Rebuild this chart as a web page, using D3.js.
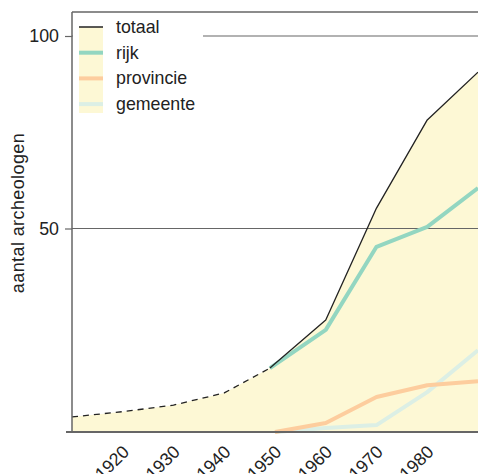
<!DOCTYPE html>
<html><head><meta charset="utf-8">
<script src="https://cdn.jsdelivr.net/npm/d3@7"></script>
<style>body{margin:0;background:#fff;} text{font-family:"Liberation Sans",Arial,sans-serif;}</style>
</head><body>
<svg id="c" width="478" height="474"></svg>
<script>
const yearTicks = [1920,1930,1940,1950,1960,1970,1980];
const yTicks = [50,100];
const totalDashedYears = [1910,1920,1930,1940,1949];
const totalDashed = [3.7,5.0,6.6,9.6,15.7];
const totalYears = [1949,1960,1970,1980,1990];
const totaal = [15.7,27.5,55.3,78.2,90.6];
const rijkYears = [1949,1960,1970,1980,1990];
const rijk = [15.7,25.1,45.5,50.4,60.5];
const provYears = [1950,1960,1970,1980,1990];
const provincie = [0,2.2,8.6,11.5,12.5];
const gemYears = [1950,1960,1970,1980,1990];
const gemeente = [0,1.0,1.7,9.8,20.1];
const legendLabels = ["totaal","rijk","provincie","gemeente"];

const FS = 17.8;
const svg = d3.select("#c");
const x = d3.scaleLinear().domain([1910,1990]).range([72,478]);
const y = d3.scaleLinear().domain([0,50,100,106.2]).range([432,228.5,36,12]);

const fillCol = "#fdf8d5";
const colors = {totaal:"#222", rijk:"#93d6c1", provincie:"#fdcd9e", gemeente:"#dcefe5"};

// area under total
const areaPts = totalDashedYears.map((d,i)=>[d,totalDashed[i]]).concat(totalYears.slice(1).map((d,i)=>[d,totaal[i+1]]));
svg.append("path").datum(areaPts)
  .attr("d", d3.area().x(d=>x(d[0])).y0(y(0)).y1(d=>y(d[1])))
  .attr("fill", fillCol);

// gridlines
svg.append("g").selectAll("line").data(yTicks).join("line")
  .attr("x1",72).attr("x2",478).attr("y1",d=>y(d)).attr("y2",d=>y(d))
  .attr("stroke","#666").attr("stroke-width",1.2);
// top border
svg.append("line").attr("x1",72).attr("x2",478).attr("y1",y(106.2)).attr("y2",y(106.2)).attr("stroke","#666").attr("stroke-width",1.5);

const line = d3.line().x(d=>x(d[0])).y(d=>y(d[1]));
function series(years, vals, col, w, dash){
  svg.append("path").datum(years.map((d,i)=>[d,vals[i]]))
    .attr("d", line).attr("fill","none").attr("stroke",col).attr("stroke-width",w)
    .attr("stroke-linejoin","round").attr("stroke-dasharray",dash||null);
}
series(gemYears, gemeente, colors.gemeente, 4);
series(provYears, provincie, colors.provincie, 4);
series(rijkYears, rijk, colors.rijk, 4);
series(totalYears, totaal, colors.totaal, 1.3);
series(totalDashedYears, totalDashed, colors.totaal, 1.3, "6,5");

// legend
const lg = svg.append("g");
lg.append("rect").attr("x",73).attr("y",13).attr("width",130).attr("height",105).attr("fill","#fff");
lg.append("rect").attr("x",79).attr("y",27).attr("width",24).attr("height",86).attr("fill",fillCol);
legendLabels.forEach((l,i)=>{
  const yy = 27 + i*25.7;
  lg.append("line").attr("x1",79).attr("x2",103).attr("y1",yy).attr("y2",yy)
    .attr("stroke",colors[l]).attr("stroke-width",i===0?1.5:4);
  lg.append("text").attr("x",116).attr("y",yy+6).attr("font-size",FS).attr("fill","#222").text(l);
});

// y axis
const yAxis = svg.append("g").attr("transform","translate(72,0)")
  .call(d3.axisLeft(y).tickValues(yTicks).tickSize(7).tickPadding(6).tickFormat(d3.format("d")));
yAxis.select(".domain").remove();
yAxis.selectAll("line").attr("stroke","#666").attr("stroke-width",1.2);
yAxis.selectAll("text").attr("font-size",FS).attr("fill","#222").style("font-family","Liberation Sans, Arial, sans-serif");
svg.append("line").attr("x1",72).attr("x2",72).attr("y1",y(106.2)).attr("y2",y(0)).attr("stroke","#666").attr("stroke-width",1.5);

// x axis
svg.append("line").attr("x1",66).attr("x2",478).attr("y1",y(0)).attr("y2",y(0)).attr("stroke","#666").attr("stroke-width",2.2);
const xAxis = svg.append("g").attr("transform",`translate(0,${y(0)})`)
  .call(d3.axisBottom(x).tickValues(yearTicks).tickSize(0).tickFormat(d3.format("d")));
xAxis.select(".domain").remove();
xAxis.selectAll("text").attr("font-size",FS).attr("fill","#222")
  .style("font-family","Liberation Sans, Arial, sans-serif")
  .attr("text-anchor","end").attr("dy",null).attr("y",null)
  .attr("transform","translate(7,21) rotate(-45)");

// y title
svg.append("text").attr("transform","translate(24,213) rotate(-90)")
  .attr("text-anchor","middle").attr("font-size",18).attr("letter-spacing",0.4).attr("fill","#222").text("aantal archeologen");
</script>
</body></html>
